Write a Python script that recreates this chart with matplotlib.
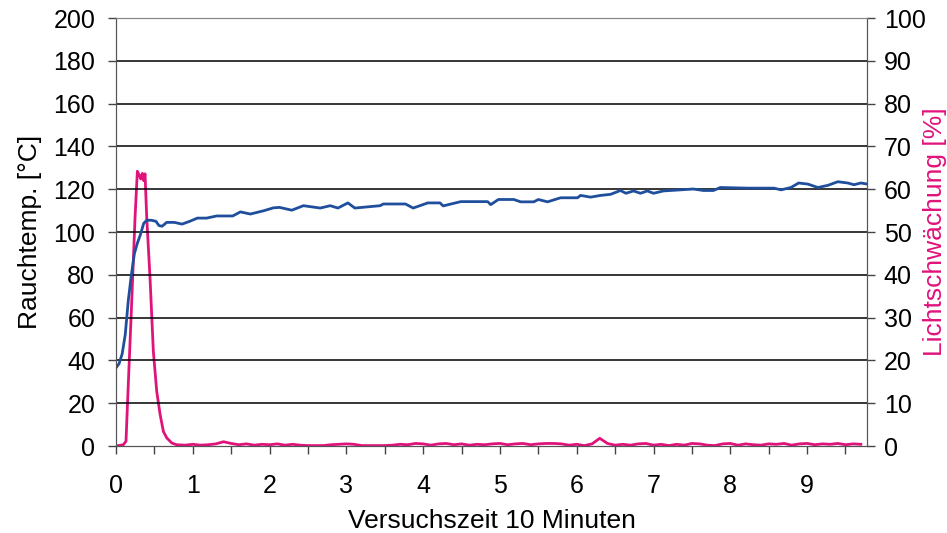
import matplotlib
matplotlib.use("Agg")
import matplotlib.pyplot as plt
from matplotlib.ticker import MultipleLocator

plt.rcParams['font.family'] = ['Liberation Sans', 'DejaVu Sans']

# Rauchtemperatur [°C] (left axis)
temp_x = [0.0, 0.04, 0.08, 0.12, 0.16, 0.20, 0.24, 0.28, 0.32, 0.36, 0.40, 0.46,
          0.52, 0.56, 0.60, 0.66, 0.76, 0.86, 0.96, 1.06, 1.18, 1.31, 1.52, 1.62,
          1.75, 1.92, 2.05, 2.13, 2.29, 2.44, 2.66, 2.79, 2.89, 3.02, 3.11, 3.44,
          3.48, 3.77, 3.87, 4.06, 4.22, 4.26, 4.49, 4.84, 4.88, 4.98, 5.18, 5.27,
          5.44, 5.50, 5.62, 5.79, 6.01, 6.05, 6.18, 6.31, 6.44, 6.57, 6.64, 6.74,
          6.83, 6.92, 7.00, 7.13, 7.35, 7.52, 7.65, 7.78, 7.87, 8.23, 8.57, 8.66,
          8.79, 8.89, 9.01, 9.14, 9.27, 9.40, 9.53, 9.61, 9.70, 9.77]
temp_y = [36.5, 38.5, 43.0, 52.0, 68.0, 80.0, 90.0, 95.0, 99.0, 104.0, 105.5, 105.5,
          105.0, 103.0, 102.7, 104.5, 104.5, 103.7, 105.0, 106.5, 106.5, 107.5, 107.5, 109.4,
          108.4, 109.9, 111.3, 111.5, 110.2, 112.3, 111.2, 112.3, 111.2, 113.6, 111.2, 112.3,
          113.1, 113.1, 111.2, 113.6, 113.6, 112.2, 114.2, 114.2, 112.8, 115.2, 115.2, 114.1,
          114.1, 115.2, 114.1, 116.0, 116.0, 117.1, 116.3, 117.1, 117.6, 119.4, 118.1, 119.2,
          118.1, 119.2, 118.1, 119.2, 119.7, 120.1, 119.4, 119.4, 120.8, 120.5, 120.5, 119.7,
          120.8, 122.9, 122.4, 120.8, 121.8, 123.5, 122.9, 122.1, 122.9, 122.5]

# Lichtschwächung [%] (right axis)
light_x = [0.0, 0.095, 0.13, 0.16, 0.205, 0.248, 0.278, 0.304, 0.322, 0.343, 0.361,
           0.378, 0.40, 0.443, 0.486, 0.53, 0.574, 0.617, 0.661, 0.726, 0.79,
           0.9, 1.0, 1.1, 1.2, 1.3, 1.4, 1.5, 1.6, 1.7, 1.8, 1.9, 2.0, 2.1, 2.2,
           2.3, 2.4, 2.5, 2.6, 2.7, 2.8, 2.9, 3.0, 3.1, 3.2, 3.3, 3.4, 3.5, 3.6,
           3.7, 3.8, 3.9, 4.0, 4.1, 4.2, 4.3, 4.4, 4.5, 4.6, 4.7, 4.8, 4.9, 5.0,
           5.1, 5.2, 5.3, 5.4, 5.5, 5.6, 5.7, 5.8, 5.9, 6.0, 6.1, 6.2, 6.3, 6.4,
           6.5, 6.6, 6.7, 6.8, 6.9, 7.0, 7.1, 7.2, 7.3, 7.4, 7.5, 7.6, 7.7, 7.8,
           7.9, 8.0, 8.1, 8.2, 8.3, 8.4, 8.5, 8.6, 8.7, 8.8, 8.9, 9.0, 9.1, 9.2,
           9.3, 9.4, 9.5, 9.6, 9.7]
light_y = [0.0, 0.3, 1.1, 14.4, 33.9, 53.4, 64.2, 63.2, 62.4, 63.7, 62.0,
           63.6, 53.4, 39.3, 22.2, 12.8, 7.4, 3.4, 1.9, 0.7, 0.3,
           0.2, 0.4, 0.2, 0.3, 0.5, 1.0, 0.6, 0.3, 0.5, 0.2, 0.4, 0.3, 0.5, 0.2,
           0.4, 0.2, 0.1, 0.1, 0.1, 0.3, 0.4, 0.5, 0.4, 0.1, 0.1, 0.1, 0.1, 0.2,
           0.4, 0.3, 0.6, 0.5, 0.2, 0.5, 0.6, 0.3, 0.5, 0.2, 0.4, 0.3, 0.5, 0.6,
           0.3, 0.5, 0.6, 0.3, 0.5, 0.6, 0.6, 0.5, 0.2, 0.4, 0.1, 0.5, 1.8, 0.6,
           0.2, 0.4, 0.2, 0.5, 0.6, 0.2, 0.4, 0.1, 0.4, 0.2, 0.6, 0.5, 0.2, 0.1,
           0.5, 0.6, 0.2, 0.5, 0.3, 0.2, 0.5, 0.4, 0.6, 0.2, 0.5, 0.6, 0.3, 0.5,
           0.4, 0.6, 0.3, 0.5, 0.4]

blue = '#1f4f9c'
pink = '#e0137b'
fs = 18
lfs = 19

fig = plt.figure(figsize=(9.47, 5.33), dpi=100)
ax = fig.add_axes([0.1225, 0.1632, 0.793, 0.803])
ax2 = ax.twinx()

ax.set_zorder(ax2.get_zorder() + 1)
ax.patch.set_visible(False)

ax2.plot(light_x, light_y, color=pink, lw=2.0)
ax.plot(temp_x, temp_y, color=blue, lw=2.0)

ax.set_xlim(0, 9.78)
ax.set_ylim(0, 200)
ax2.set_ylim(0, 100)

ax.xaxis.set_major_locator(MultipleLocator(1))
ax.xaxis.set_minor_locator(MultipleLocator(0.5))
ax.yaxis.set_major_locator(MultipleLocator(20))
ax2.yaxis.set_major_locator(MultipleLocator(10))

for yv in range(20, 200, 20):
    ax.axhline(yv, color='black', lw=1.1, zorder=0)

ax.tick_params(axis='x', which='both', direction='out', length=6, width=1,
               color='#444444', labelsize=fs, pad=14)
ax.tick_params(axis='y', direction='out', length=6, width=1, color='#444444',
               labelsize=fs, pad=9)
ax2.tick_params(axis='y', direction='out', length=6, width=1, color='#444444',
                labelsize=fs, pad=6)

for a in (ax, ax2):
    a.spines['top'].set_color('#888888')
    a.spines['left'].set_color('#555555')
    a.spines['right'].set_color('#555555')
    a.spines['bottom'].set_color('#555555')

ax.set_xlabel('Versuchszeit 10 Minuten', fontsize=lfs, labelpad=8)
ax.set_ylabel('Rauchtemp. [°C]', fontsize=lfs, labelpad=8)
ax2.set_ylabel('Lichtschwächung [%]', fontsize=lfs, color=pink, labelpad=-2)

fig.savefig('out.png', dpi=100)
